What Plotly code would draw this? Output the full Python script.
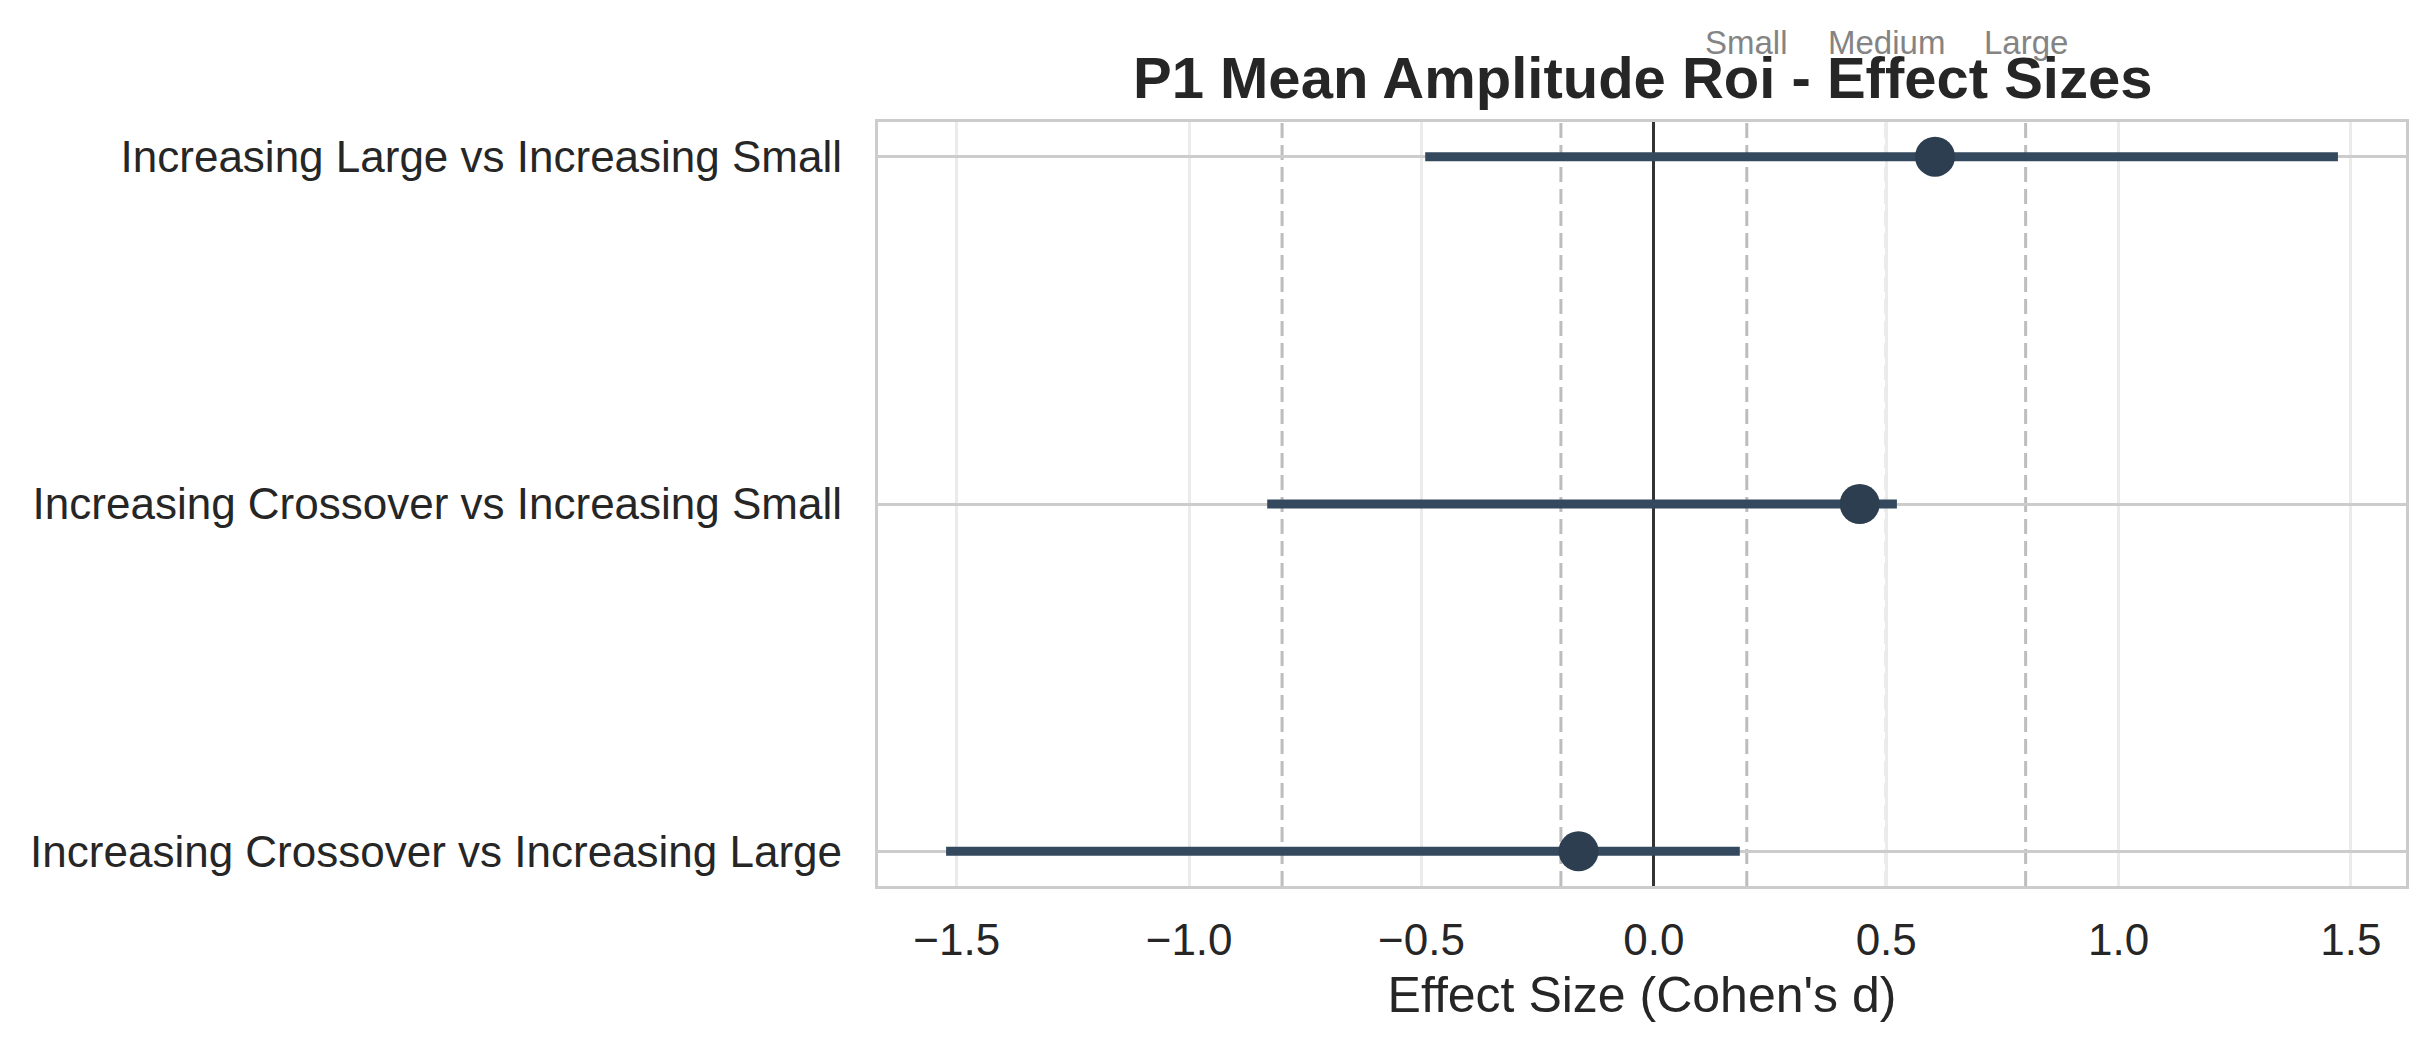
import plotly.graph_objects as go

# forest plot of pairwise effect sizes (Cohen's d with CI)
comparisons = [
    "Increasing Large vs Increasing Small",
    "Increasing Crossover vs Increasing Small",
    "Increasing Crossover vs Increasing Large",
]
d_values = [0.605, 0.443, -0.162]
ci_lower = [-0.492, -0.832, -1.523]
ci_upper = [1.472, 0.523, 0.185]

thresholds = [0.2, 0.5, 0.8]
threshold_labels = ["Small", "Medium", "Large"]
x_ticks = [-1.5, -1.0, -0.5, 0.0, 0.5, 1.0, 1.5]

FONT = "Liberation Sans, Arial, sans-serif"
TEXT = "#262626"
BAR = "#34495e"
DOT = "#2c3e50"

fig = go.Figure()

for comp, lo, hi in zip(comparisons, ci_lower, ci_upper):
    fig.add_trace(go.Scatter(
        x=[lo, hi], y=[comp, comp], mode="lines",
        line=dict(color=BAR, width=9), showlegend=False, hoverinfo="skip",
    ))

fig.add_trace(go.Scatter(
    x=d_values, y=comparisons, mode="markers",
    marker=dict(color=DOT, size=40), showlegend=False,
))

# dashed reference lines at +/- small, medium, large
for t in thresholds:
    for sign in (-1, 1):
        fig.add_shape(type="line", xref="x", yref="paper", x0=sign * t, x1=sign * t,
                      y0=0, y1=1, layer="below",
                      line=dict(color="#bdbdbd", width=3, dash="15px,7px"))

for t, lab in zip(thresholds, threshold_labels):
    fig.add_annotation(x=t, y=1.104, xref="x", yref="paper", text=lab, showarrow=False,
                       xanchor="center", yanchor="middle",
                       font=dict(family=FONT, size=33, color="#848484"))

fig.add_annotation(x=0.5, y=1.058, xref="paper", yref="paper",
                   text="<b>P1 Mean Amplitude Roi - Effect Sizes</b>", showarrow=False,
                   xanchor="center", yanchor="middle",
                   font=dict(family=FONT, size=58, color=TEXT))

fig.update_xaxes(
    range=[-1.6695, 1.6185], tickvals=x_ticks,
    ticktext=[f"{v:.1f}".replace("-", "\u2212") for v in x_ticks],
    showgrid=True, gridcolor="#ebebeb", gridwidth=2.5,
    zeroline=True, zerolinecolor="#333333", zerolinewidth=3.3,
    showline=True, mirror=True, linecolor="#cccccc", linewidth=3.3,
    ticks="outside", ticklen=0, ticklabelstandoff=13,
    tickfont=dict(family=FONT, size=44, color=TEXT),
    title=dict(text="Effect Size (Cohen's d)", standoff=15,
               font=dict(family=FONT, size=50, color=TEXT)),
)
fig.update_yaxes(
    categoryorder="array", categoryarray=comparisons, range=[2.1, -0.1],
    showgrid=True, gridcolor="#cccccc", gridwidth=2.7,
    showline=True, mirror=True, linecolor="#cccccc", linewidth=3.3,
    ticks="outside", ticklen=0, ticklabelstandoff=24,
    tickfont=dict(family=FONT, size=44, color=TEXT),
)

# page body adds an 8px offset, so the figure is a bit smaller than the window
fig.update_layout(
    width=2418, height=1039,
    margin=dict(l=870, r=20, t=114, b=161),
    plot_bgcolor="white", paper_bgcolor="white",
    font=dict(family=FONT, color=TEXT),
)

fig.write_html("out.html")
